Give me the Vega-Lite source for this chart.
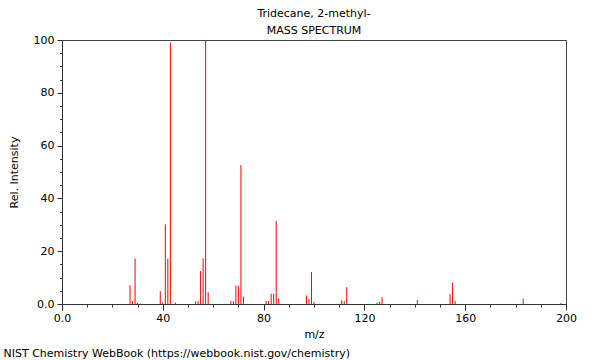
{
  "$schema": "https://vega.github.io/schema/vega-lite/v6.json",
  "width": 504,
  "height": 264,
  "autosize": "none",
  "padding": {"left": 62, "top": 40, "right": 34, "bottom": 56},
  "background": "white",
  "config": {
    "view": {"stroke": "#444", "strokeWidth": 1},
    "font": "DejaVu Sans",
    "axis": {"grid": false, "labelFont": "DejaVu Sans", "titleFont": "DejaVu Sans", "labelColor": "#000", "titleColor": "#000", "domainColor": "#333", "tickColor": "#333", "labelFontSize": 11, "titleFontSize": 11, "titleFontWeight": "normal"}
  },
  "title": {
    "text": ["Tridecane, 2-methyl-", "MASS SPECTRUM"],
    "font": "DejaVu Sans",
    "fontSize": 11,
    "fontWeight": "normal",
    "color": "#000",
    "lineHeight": 17,
    "anchor": "middle",
    "frame": "group",
    "offset": -2
  },
  "data": {
    "values": [
      {"mz": 27, "intensity": 7.1},
      {"mz": 28, "intensity": 1.1},
      {"mz": 29, "intensity": 17.2},
      {"mz": 30, "intensity": 0.4},
      {"mz": 31, "intensity": 0.2},
      {"mz": 39, "intensity": 4.8},
      {"mz": 40, "intensity": 0.6},
      {"mz": 41, "intensity": 30.2},
      {"mz": 42, "intensity": 17.2},
      {"mz": 43, "intensity": 99.1},
      {"mz": 45, "intensity": 0.5},
      {"mz": 53, "intensity": 1.0},
      {"mz": 54, "intensity": 1.2},
      {"mz": 55, "intensity": 12.5},
      {"mz": 56, "intensity": 17.3},
      {"mz": 57, "intensity": 100},
      {"mz": 58, "intensity": 4.4},
      {"mz": 67, "intensity": 1.1},
      {"mz": 68, "intensity": 1.1},
      {"mz": 69, "intensity": 7.0},
      {"mz": 70, "intensity": 6.9},
      {"mz": 71, "intensity": 52.6},
      {"mz": 72, "intensity": 2.8},
      {"mz": 81, "intensity": 1.1},
      {"mz": 82, "intensity": 1.1},
      {"mz": 83, "intensity": 3.9},
      {"mz": 84, "intensity": 3.9},
      {"mz": 85, "intensity": 31.4},
      {"mz": 86, "intensity": 2.1},
      {"mz": 97, "intensity": 3.2},
      {"mz": 98, "intensity": 1.9},
      {"mz": 99, "intensity": 12.1},
      {"mz": 100, "intensity": 0.8},
      {"mz": 111, "intensity": 1.4},
      {"mz": 112, "intensity": 1.1},
      {"mz": 113, "intensity": 6.4},
      {"mz": 125, "intensity": 0.5},
      {"mz": 126, "intensity": 0.8},
      {"mz": 127, "intensity": 2.6},
      {"mz": 141, "intensity": 1.5},
      {"mz": 154, "intensity": 3.7},
      {"mz": 155, "intensity": 8.1},
      {"mz": 156, "intensity": 1.2},
      {"mz": 183, "intensity": 2.1},
      {"mz": 198, "intensity": 0.4}
    ]
  },
  "layer": [
    {
      "mark": {"type": "rule", "color": "#ff0000", "strokeWidth": 1},
      "encoding": {
        "x": {
          "field": "mz", "type": "quantitative",
          "scale": {"domain": [0, 200], "nice": false, "zero": false},
          "axis": {"orient": "bottom", "values": [0, 40, 80, 120, 160, 200], "tickSize": 6, "labelPadding": 2, "labelExpr": "datum.value == 0 ? '0.0' : datum.label", "title": "m/z", "titlePadding": 5, "labelFlush": false}
        },
        "y": {
          "field": "intensity", "type": "quantitative",
          "scale": {"domain": [0, 100], "nice": false},
          "axis": {"values": [0, 20, 40, 60, 80, 100], "tickSize": 5, "labelPadding": 3, "labelExpr": "datum.value == 0 ? '0.0' : datum.label", "title": "Rel. Intensity", "titlePadding": 14}
        },
        "y2": {"datum": 0}
      }
    },
    {
      "mark": {"type": "rule", "opacity": 0},
      "encoding": {
        "x": {
          "field": "mz", "type": "quantitative",
          "scale": {"domain": [0, 200], "nice": false, "zero": false},
          "axis": {"orient": "bottom", "values": [10, 20, 30, 50, 60, 70, 90, 100, 110, 130, 140, 150, 170, 180, 190], "tickSize": 3, "labels": false, "domain": false, "title": "NIST Chemistry WebBook (https://webbook.nist.gov/chemistry)", "titleAnchor": "start", "titleAlign": "left", "titleX": -59, "titleY": 52, "titleBaseline": "alphabetic"}
        },
        "y": {
          "field": "intensity", "type": "quantitative",
          "scale": {"domain": [0, 100], "nice": false},
          "axis": {"orient": "left", "values": [5, 10, 15, 25, 30, 35, 45, 50, 55, 65, 70, 75, 85, 90, 95], "tickSize": 2.5, "labels": false, "domain": false, "title": null}
        },
        "y2": {"datum": 0}
      }
    }
  ],
  "resolve": {"axis": {"x": "independent", "y": "independent"}}
}
